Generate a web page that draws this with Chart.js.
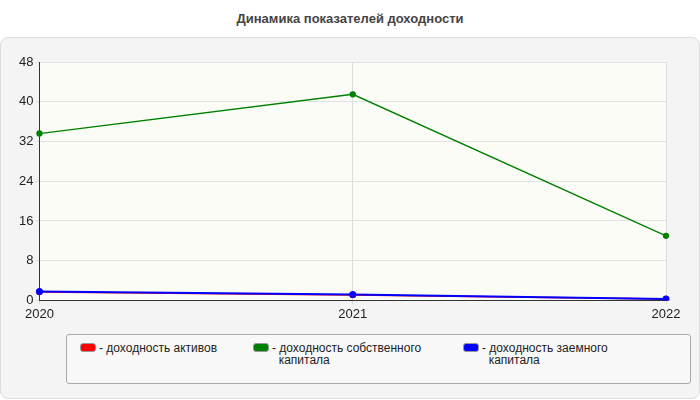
<!DOCTYPE html>
<html><head><meta charset="utf-8">
<script src="https://cdn.jsdelivr.net/npm/chart.js@4"></script>
<style>
body{margin:0;width:700px;height:400px;background:#fff;font-family:Arial,"Liberation Sans",sans-serif;position:relative;overflow:hidden}
#title{position:absolute;top:11px;left:0;width:700px;text-align:center;font-weight:bold;font-size:13px;color:#444}
#panel{position:absolute;left:0;top:37px;width:698px;height:360px;background:#f4f4f4;border:1px solid #ddd;border-radius:8px}
#cv{position:absolute;left:0;top:40px}
#legend{position:absolute;left:66px;top:334px;width:623px;height:48px;border:1px solid #aaa;border-radius:3px;background:#f8f8f8;font-size:12px;color:#222}
.li{position:absolute;top:7px;line-height:12px}
.sw{position:absolute;left:-19px;top:1px;width:14px;height:7px;border-radius:3px;border:1px solid #999}
</style></head><body>
<div id="title">Динамика показателей доходности</div>
<div id="panel"></div>
<canvas id="cv" width="700" height="284"></canvas>
<div id="legend">
<div class="li" style="left:32px"><div class="sw" style="background:#ff0000"></div>- доходность активов</div>
<div class="li" style="left:205px"><div class="sw" style="background:#008000"></div>- доходность собственного<br>&nbsp;&nbsp;капитала</div>
<div class="li" style="left:415px"><div class="sw" style="background:#0000ff"></div>- доходность заемного<br>&nbsp;&nbsp;капитала</div>
</div>
<script>
const years=["2020","2021","2022"];
const assets=[1.7,1.1,0.3];
const equity=[33.6,41.5,13.0];
const borrowed=[1.8,1.2,0.3];
const yTicks=[0,8,16,24,32,40,48];
const bgPlugin={id:'bg',beforeDraw(c){const a=c.chartArea,x=c.ctx;x.save();x.fillStyle='#fcfcf7';x.fillRect(a.left,a.top,a.right-a.left,a.bottom-a.top);x.restore();}};
function ds(label,data,color,w){return {label,data,borderColor:color,backgroundColor:color,borderWidth:w,pointRadius:2.5,pointHoverRadius:2.5,tension:0,fill:false};}
new Chart(document.getElementById('cv'),{type:'line',
data:{labels:years,datasets:[ds('доходность заемного капитала',borrowed,'#0000ff',2),ds('доходность собственного капитала',equity,'#008000',1.3),ds('доходность активов',assets,'#ff0000',1.5)]},
plugins:[bgPlugin],
options:{responsive:false,animation:false,
layout:{padding:{left:17,right:34,top:22,bottom:0}},
plugins:{legend:{display:false},tooltip:{enabled:false}},
scales:{
x:{offset:false,grid:{color:'#ddd',tickLength:4},border:{color:'#333',width:1},ticks:{color:'#222',font:{size:13,family:'Arial'},padding:2,maxRotation:0}},
y:{min:0,max:48,afterBuildTicks(s){s.ticks=yTicks.map(v=>({value:v}));},grid:{color:'#e2e2e2',tickLength:4},border:{color:'#333',width:1,dash:[]},ticks:{color:'#222',font:{size:13,family:'Arial'},padding:2}}
}}});
</script></body></html>
